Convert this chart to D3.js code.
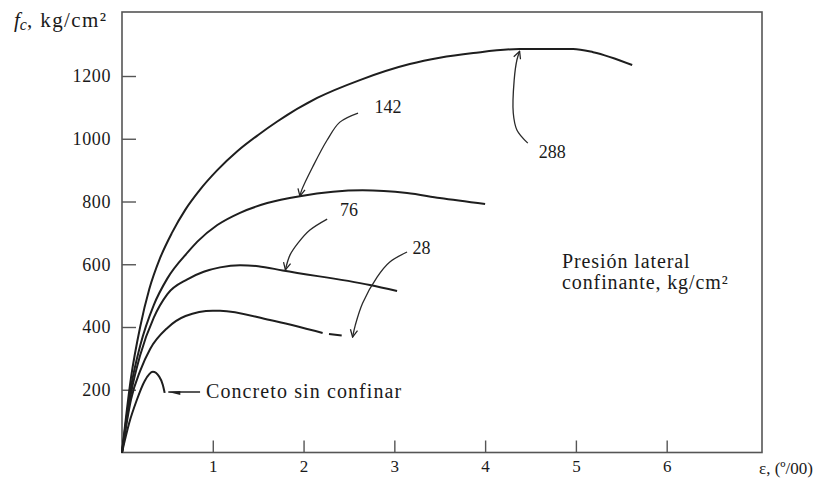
<!DOCTYPE html>
<html>
<head>
<meta charset="utf-8">
<script src="https://cdn.jsdelivr.net/npm/d3@7"></script>
<style>
body { margin: 0; background: #fff; }
text { font-family: "Liberation Serif", "Times New Roman", serif; fill: #1a1a1a; }
</style>
</head>
<body>
<div id="chart"></div>
<script>
// stress-strain curves, strain in 0/00 and stress in kg/cm2
let strain288 = [0, 0.1, 0.2, 0.3, 0.42, 0.55, 0.7, 0.86, 1.05, 1.27, 1.5, 1.71, 2.15, 2.62, 3.17, 3.5, 3.87, 4.38, 4.97, 5.19, 5.62];
let stress288 = [0, 240, 400, 520, 620, 700, 775, 838, 900, 960, 1012, 1055, 1130, 1187, 1238, 1258, 1273, 1286, 1286, 1276, 1235];

let strain142 = [0, 0.1, 0.2, 0.35, 0.5, 0.73, 0.83, 1.05, 1.3, 1.6, 1.96, 2.65, 3.14, 3.5, 4.0];
let stress142 = [0, 210, 340, 470, 555, 640, 672, 725, 764, 795, 817, 836, 827, 811, 792];

let strain76 = [0, 0.1, 0.2, 0.35, 0.5, 0.72, 0.9, 1.08, 1.3, 1.5, 1.77, 2.73, 3.03];
let stress76 = [0, 190, 310, 430, 505, 552, 576, 590, 597, 594, 580, 534, 515];

let strain28 = [0, 0.1, 0.2, 0.31, 0.5, 0.7, 1.0, 1.08, 1.63, 2.21];
let stress28 = [0, 170, 260, 330, 397, 435, 452, 452, 422, 381];
let strain28dash = [2.28, 2.42];
let stress28dash = [378, 373];

let strain0 = [0, 0.08, 0.16, 0.25, 0.34, 0.41, 0.45, 0.47];
let stress0 = [0, 95, 165, 228, 257, 242, 215, 190];

let xTicks = [1, 2, 3, 4, 5, 6];
let yTicks = [200, 400, 600, 800, 1000, 1200];

// labels of the curves with their leader arrows (data units)
let labelText = ["288", "142", "76", "28"];
let labelStrain = [4.74, 2.93, 2.50, 3.30];
let labelStress = [958, 1101, 773, 652];
let arrowStrain = [
    [4.47, 4.35, 4.31, 4.32, 4.35, 4.38],
    [2.60, 2.40, 2.26, 2.10, 1.98, 1.96],
    [2.26, 2.07, 1.94, 1.85, 1.80],
    [3.14, 2.95, 2.81, 2.65, 2.57, 2.54]
];
let arrowStress = [
    [986, 1028, 1082, 1187, 1251, 1279],
    [1082, 1053, 996, 910, 837, 817],
    [744, 709, 668, 629, 582],
    [639, 607, 559, 476, 406, 368]
];

let svg = d3.select("#chart")
    .append("svg")
    .attr("width", 820)
    .attr("height", 479);

let x = d3.scaleLinear()
    .domain([0, 7.05])
    .range([122, 762]);

let y = d3.scaleLinear()
    .domain([0, 1404])
    .range([452.5, 12]);

let defs = svg.append("defs");
defs.append("marker")
    .attr("id", "vhead")
    .attr("viewBox", "0 0 10 10")
    .attr("refX", 9)
    .attr("refY", 5)
    .attr("markerWidth", 9)
    .attr("markerHeight", 9)
    .attr("markerUnits", "userSpaceOnUse")
    .attr("orient", "auto")
    .append("path")
    .attr("d", "M1,1 L9,5 L1,9")
    .attr("fill", "none")
    .attr("stroke", "#222")
    .attr("stroke-width", 1.4);

defs.append("marker")
    .attr("id", "barb")
    .attr("viewBox", "0 0 12 8")
    .attr("refX", 12)
    .attr("refY", 4)
    .attr("markerWidth", 14)
    .attr("markerHeight", 8)
    .attr("markerUnits", "userSpaceOnUse")
    .attr("orient", "auto")
    .append("path")
    .attr("d", "M0,1 L12,4 L0,5 Z")
    .attr("fill", "#222");

//draw frame
svg.append("rect")
    .attr("x", x(0))
    .attr("y", y(1404))
    .attr("width", x(7.05) - x(0))
    .attr("height", y(0) - y(1404))
    .attr("fill", "none")
    .attr("stroke", "#555")
    .attr("stroke-width", 1.6);

//axes with ticks pointing inside
let yAxis = svg.append("g")
    .attr("transform", "translate(" + x(0) + ",0)")
    .call(d3.axisLeft(y).tickValues(yTicks).tickFormat(d3.format("d"))
        .tickSizeInner(-14).tickSizeOuter(0).tickPadding(11));
yAxis.select(".domain").remove();
yAxis.selectAll("line").attr("stroke", "#555").attr("stroke-width", 1.4);
yAxis.selectAll("text")
    .attr("font-size", 18)
    .attr("letter-spacing", 0.6)
    .style("font-family", "'Liberation Serif', serif")
    .attr("fill", "#1a1a1a");

let xAxis = svg.append("g")
    .attr("transform", "translate(0," + y(0) + ")")
    .call(d3.axisBottom(x).tickValues(xTicks).tickFormat(d3.format("d"))
        .tickSizeInner(-12).tickSizeOuter(0).tickPadding(7));
xAxis.select(".domain").remove();
xAxis.selectAll("line").attr("stroke", "#555").attr("stroke-width", 1.4);
xAxis.selectAll("text")
    .attr("font-size", 17)
    .style("font-family", "'Liberation Serif', serif")
    .attr("fill", "#1a1a1a");

//axis titles
let yTitle = svg.append("text")
    .attr("x", 14)
    .attr("y", 27)
    .attr("font-size", 21);
yTitle.append("tspan").attr("font-style", "italic").text("f");
yTitle.append("tspan").attr("font-style", "italic").attr("font-size", 16).attr("dy", 3).text("c");
yTitle.append("tspan").attr("dy", -3).attr("letter-spacing", 1.4).text(", kg/cm²");

svg.append("text")
    .attr("x", 759)
    .attr("y", 474)
    .attr("font-size", 17)
    .text("ε, (º/00)");

//draw curves
let line = d3.line()
    .x(d => x(d[0]))
    .y(d => y(d[1]))
    .curve(d3.curveMonotoneX);

let curves = [
    [strain288, stress288],
    [strain142, stress142],
    [strain76, stress76],
    [strain28, stress28],
    [strain28dash, stress28dash],
    [strain0, stress0]
];

curves.forEach(c => {
    let pts = c[0].map((s, i) => [s, c[1][i]]);
    svg.append("path")
        .datum(pts)
        .attr("d", line)
        .attr("fill", "none")
        .attr("stroke", "#1e1e1e")
        .attr("stroke-width", 2);
});

//curve labels and arrows
let arrowLine = d3.line()
    .x(d => x(d[0]))
    .y(d => y(d[1]))
    .curve(d3.curveCatmullRom);

for (var i = 0; i < labelText.length; i++) {
    let pts = arrowStrain[i].map((s, j) => [s, arrowStress[i][j]]);
    svg.append("path")
        .datum(pts)
        .attr("d", arrowLine)
        .attr("fill", "none")
        .attr("stroke", "#2a2a2a")
        .attr("stroke-width", 1.3)
        .attr("marker-end", "url(#vhead)");

    svg.append("text")
        .attr("x", x(labelStrain[i]))
        .attr("y", y(labelStress[i]))
        .attr("dy", "0.35em")
        .attr("text-anchor", "middle")
        .attr("font-size", 18)
        .text(labelText[i]);
}

// unconfined concrete label
svg.append("line")
    .attr("x1", x(0.86))
    .attr("y1", y(193))
    .attr("x2", x(0.51))
    .attr("y2", y(193))
    .attr("stroke", "#222")
    .attr("stroke-width", 1.4)
    .attr("marker-end", "url(#barb)");

svg.append("text")
    .attr("x", x(0.925))
    .attr("y", y(197))
    .attr("dy", "0.35em")
    .attr("font-size", 20)
    .attr("letter-spacing", 1.1)
    .text("Concreto sin confinar");

//legend note
let note = svg.append("text")
    .attr("x", 562)
    .attr("y", 268)
    .attr("font-size", 20)
    .attr("letter-spacing", 0.9);
note.append("tspan").attr("x", 562).text("Presión lateral");
note.append("tspan").attr("x", 562).attr("dy", 21).text("confinante, kg/cm²");
</script>
</body>
</html>
